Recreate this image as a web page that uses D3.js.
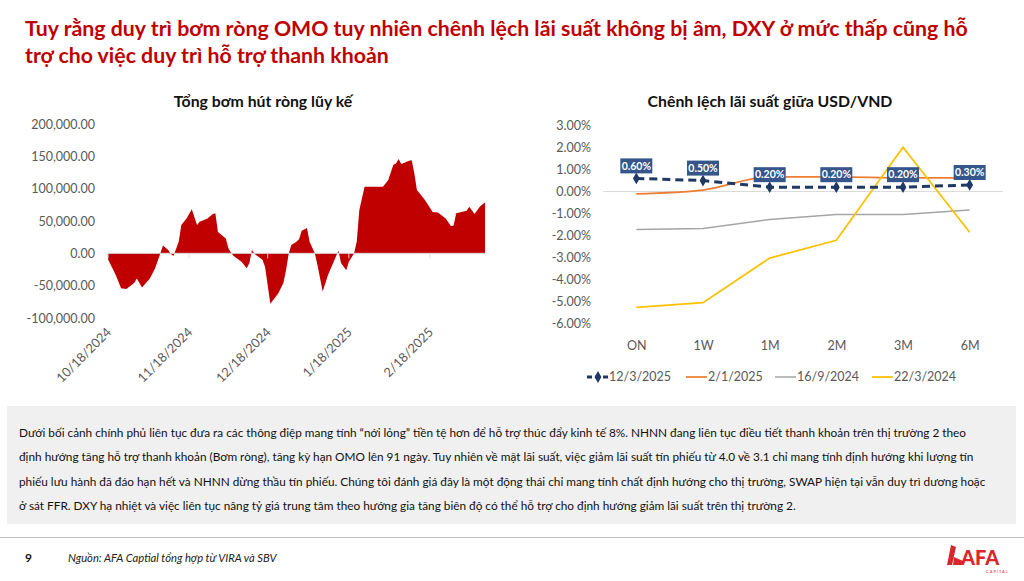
<!DOCTYPE html>
<html lang="vi">
  <head>
    <meta charset="UTF-8" />
    <title>Bơm hút ròng & chênh lệch lãi suất</title>
    <script src="https://d3js.org/d3.v7.min.js"></script>
    <style>
      body {
        margin: 0;
        background: #fff;
        font-family: Lato, 'Open Sans', Arial, sans-serif;
      }
      svg text {
        font-family: Lato, 'Open Sans', Arial, sans-serif;
      }
    </style>
  </head>
  <body>
    <div id="chart"></div>
    <script>
      // ---- data: cumulative net injection (left chart) ----
      const omoDates = [
        '2024-10-18', '2024-10-21', '2024-10-23', '2024-10-25', '2024-10-28', '2024-10-29',
        '2024-10-31', '2024-11-03', '2024-11-05', '2024-11-07', '2024-11-08', '2024-11-10',
        '2024-11-11', '2024-11-12', '2024-11-14', '2024-11-15', '2024-11-17', '2024-11-19',
        '2024-11-21', '2024-11-22', '2024-11-25', '2024-11-27', '2024-11-28', '2024-11-29',
        '2024-12-02', '2024-12-03', '2024-12-04', '2024-12-05', '2024-12-08', '2024-12-10',
        '2024-12-11', '2024-12-12', '2024-12-13', '2024-12-16', '2024-12-17', '2024-12-19',
        '2024-12-22', '2024-12-24', '2024-12-25', '2024-12-26', '2024-12-27', '2024-12-29',
        '2024-12-30', '2024-12-31', '2025-01-02', '2025-01-03', '2025-01-05', '2025-01-06',
        '2025-01-08', '2025-01-10', '2025-01-12', '2025-01-14', '2025-01-15', '2025-01-17',
        '2025-01-18', '2025-01-20', '2025-01-21', '2025-01-22', '2025-01-24', '2025-01-31',
        '2025-02-02', '2025-02-04', '2025-02-05', '2025-02-06', '2025-02-07', '2025-02-10',
        '2025-02-11', '2025-02-12', '2025-02-13', '2025-02-16', '2025-02-19', '2025-02-21',
        '2025-02-24', '2025-02-26', '2025-02-27', '2025-02-28', '2025-03-04', '2025-03-05',
        '2025-03-07', '2025-03-09', '2025-03-11'
      ];
      const omoValues = [
        -9000, -34000, -54000, -55000, -46000, -39000,
        -53000, -39000, -23000, 0, 12000, 5000,
        -1000, -4000, 18000, 44000, 54000, 68000,
        44000, 49000, 54000, 61000, 62000, 33000,
        23000, 8000, 1000, -4000, -13000, -23000,
        -15000, 5000, -1000, -10000, -21000, -78000,
        -62000, -46000, -26000, -1000, 13000, 18000,
        22000, 35000, 39000, 18000, 0, -18000,
        -59000, -34000, -15000, 4000, -15000, -26000,
        -13000, 0, 18000, 67000, 103000, 103000,
        113000, 137000, 139000, 146000, 138000, 143000,
        144000, 124000, 98000, 83000, 64000, 63000,
        54000, 42000, 43000, 62000, 66000, 72000,
        61000, 72000, 79000
      ];
      const omoTickDates = ['2024-10-18', '2024-11-18', '2024-12-18', '2025-01-18', '2025-02-18'];
      const omoTickLabels = ['10/18/2024', '11/18/2024', '12/18/2024', '1/18/2025', '2/18/2025'];
      const omoYTicks = [-100000, -50000, 0, 50000, 100000, 150000, 200000];

      // ---- data: USD/VND rate spread (right chart) ----
      const tenors = ['ON', '1W', '1M', '2M', '3M', '6M'];
      const spread_12_3_2025 = [0.6, 0.5, 0.2, 0.2, 0.2, 0.3];
      const spread_2_1_2025 = [-0.1, 0.07, 0.67, 0.67, 0.62, 0.62];
      const spread_16_9_2024 = [-1.73, -1.68, -1.27, -1.05, -1.05, -0.84];
      const spread_22_3_2024 = [-5.28, -5.06, -3.03, -2.22, 2.02, -1.85];
      const seriesNames = ['12/3/2025', '2/1/2025', '16/9/2024', '22/3/2024'];
      const spreadYTicks = [-6, -5, -4, -3, -2, -1, 0, 1, 2, 3];

      const bodyLines = [
        'Dưới bối cảnh chính phủ liên tục đưa ra các thông điệp mang tính “nới lỏng” tiền tệ hơn để hỗ trợ thúc đẩy kinh tế 8%. NHNN đang liên tục điều tiết thanh khoản trên thị trường 2 theo',
        'định hướng tăng hỗ trợ thanh khoản (Bơm ròng), tăng kỳ hạn OMO lên 91 ngày. Tuy nhiên về mặt lãi suất, việc giảm lãi suất tín phiếu từ 4.0 về 3.1 chỉ mang tính định hướng khi lượng tín',
        'phiếu lưu hành đã đáo hạn hết và NHNN dừng thầu tín phiếu. Chúng tôi đánh giá đây là một động thái chỉ mang tính chất định hướng cho thị trường, SWAP hiện tại vẫn duy trì dương hoặc',
        'ở sát FFR. DXY hạ nhiệt và việc liên tục nâng tỷ giá trung tâm theo hướng gia tăng biên độ có thể hỗ trợ cho định hướng giảm lãi suất trên thị trường 2.'
      ];

      const width = 1024;
      const height = 581;
      const parse = d3.timeParse('%Y-%m-%d');
      const locale = d3.formatLocale({
        decimal: '.',
        thousands: ',',
        grouping: [3],
        currency: ['$', ''],
        minus: '-'
      });

      const svg = d3
        .select('#chart')
        .append('svg')
        .attr('width', width)
        .attr('height', height);

      // Slide title
      const title = svg
        .append('text')
        .attr('x', 25)
        .attr('fill', '#C00000')
        .attr('font-size', 21.3)
        .attr('font-weight', 700);
      title
        .append('tspan')
        .attr('x', 25)
        .attr('y', 36)
        .text('Tuy rằng duy trì bơm ròng OMO tuy nhiên chênh lệch lãi suất không bị âm, DXY ở mức thấp cũng hỗ');
      title
        .append('tspan')
        .attr('x', 25)
        .attr('y', 63)
        .text('trợ cho việc duy trì hỗ trợ thanh khoản');

      // ---------- Left chart: area ----------
      const left = svg.append('g');
      left
        .append('text')
        .attr('x', 263)
        .attr('y', 107)
        .attr('text-anchor', 'middle')
        .attr('font-size', 15.8)
        .attr('font-weight', 700)
        .attr('fill', '#111')
        .text('Tổng bơm hút ròng lũy kế');

      const omoData = omoDates.map((d, i) => ({ date: parse(d), value: omoValues[i] }));
      const x1 = d3
        .scaleTime()
        .domain([parse('2024-10-18'), parse('2025-03-11')])
        .range([108, 485]);
      const y1 = d3.scaleLinear().domain([-100000, 200000]).range([318, 124]);

      left
        .append('path')
        .datum(omoData)
        .attr('fill', '#C00000')
        .attr(
          'd',
          d3
            .area()
            .x((d) => x1(d.date))
            .y0(y1(0))
            .y1((d) => y1(d.value))
        );

      // zero axis line with small tick marks
      left
        .append('line')
        .attr('x1', x1.range()[0])
        .attr('x2', x1.range()[1])
        .attr('y1', y1(0))
        .attr('y2', y1(0))
        .attr('stroke', '#D9D9D9')
        .attr('stroke-width', 1);
      left
        .selectAll('.xtick')
        .data(omoTickDates)
        .join('line')
        .attr('x1', (d) => x1(parse(d)))
        .attr('x2', (d) => x1(parse(d)))
        .attr('y1', y1(0))
        .attr('y2', y1(0) + 5)
        .attr('stroke', '#D9D9D9');

      const yAxis1 = left
        .append('g')
        .attr('transform', 'translate(98,0)')
        .call(
          d3
            .axisLeft(y1)
            .tickValues(omoYTicks)
            .tickFormat(locale.format(',.2f'))
            .tickSize(0)
        );
      yAxis1.select('.domain').remove();
      yAxis1.selectAll('text').attr('font-size', 12.5).attr('fill', '#595959').attr('font-family', 'Lato');

      left
        .selectAll('.xlabel')
        .data(omoTickDates)
        .join('text')
        .attr('transform', (d) => `translate(${x1(parse(d)) + 4},${333}) rotate(-45)`)
        .attr('text-anchor', 'end')
        .attr('font-size', 12.8)
        .attr('fill', '#595959')
        .text((d, i) => omoTickLabels[i]);

      // ---------- Right chart: lines ----------
      const right = svg.append('g');
      right
        .append('text')
        .attr('x', 770)
        .attr('y', 107)
        .attr('text-anchor', 'middle')
        .attr('font-size', 15.8)
        .attr('font-weight', 700)
        .attr('fill', '#111')
        .text('Chênh lệch lãi suất giữa USD/VND');

      const x2 = d3.scalePoint().domain(tenors).range([603, 1003]).padding(0.5);
      const y2 = d3.scaleLinear().domain([-6, 3]).range([323.3, 125.7]);

      right
        .append('line')
        .attr('x1', 603)
        .attr('x2', 1003)
        .attr('y1', y2(0))
        .attr('y2', y2(0))
        .attr('stroke', '#D9D9D9');

      const yAxis2 = right
        .append('g')
        .attr('transform', 'translate(594,0)')
        .call(
          d3
            .axisLeft(y2)
            .tickValues(spreadYTicks)
            .tickFormat((d) => locale.format('.2%')(d / 100))
            .tickSize(0)
        );
      yAxis2.select('.domain').remove();
      yAxis2.selectAll('text').attr('font-size', 12.5).attr('fill', '#595959').attr('font-family', 'Lato');

      const xAxis2 = right
        .append('g')
        .attr('transform', 'translate(0,338)')
        .call(d3.axisBottom(x2).tickSize(0));
      xAxis2.select('.domain').remove();
      xAxis2.selectAll('text').attr('font-size', 12.5).attr('fill', '#595959').attr('font-family', 'Lato');

      const line2 = (curve) =>
        d3
          .line()
          .x((d, i) => x2(tenors[i]))
          .y((d) => y2(d))
          .curve(curve);

      right
        .append('path')
        .datum(spread_16_9_2024)
        .attr('fill', 'none')
        .attr('stroke', '#A5A5A5')
        .attr('stroke-width', 1.5)
        .attr('d', line2(d3.curveLinear));

      right
        .append('path')
        .datum(spread_2_1_2025)
        .attr('fill', 'none')
        .attr('stroke', '#ED7D31')
        .attr('stroke-width', 1.75)
        .attr('d', line2(d3.curveMonotoneX));

      right
        .append('path')
        .datum(spread_22_3_2024)
        .attr('fill', 'none')
        .attr('stroke', '#FFC000')
        .attr('stroke-width', 1.75)
        .attr('d', line2(d3.curveLinear));

      right
        .append('path')
        .datum(spread_12_3_2025)
        .attr('fill', 'none')
        .attr('stroke', '#1F3864')
        .attr('stroke-width', 3)
        .attr('stroke-dasharray', '8,5')
        .attr('d', line2(d3.curveLinear));

      right
        .selectAll('.mk')
        .data(spread_12_3_2025)
        .join('path')
        .attr('d', d3.symbol(d3.symbolDiamond, 40))
        .attr('transform', (d, i) => `translate(${x2(tenors[i])},${y2(d)})`)
        .attr('fill', '#1F3864');

      const labels = right
        .selectAll('.lbl')
        .data(spread_12_3_2025)
        .join('g')
        .attr('transform', (d, i) => `translate(${x2(tenors[i])},${y2(d) - 12.5})`);
      labels
        .append('rect')
        .attr('x', -16)
        .attr('y', -7.5)
        .attr('width', 32)
        .attr('height', 15)
        .attr('fill', '#34568A');
      labels
        .append('text')
        .attr('text-anchor', 'middle')
        .attr('dy', '0.35em')
        .attr('font-size', 10.5)
        .attr('font-weight', 700)
        .attr('fill', '#fff')
        .text((d) => locale.format('.2%')(d / 100));

      // legend
      const legendItems = [
        { name: seriesNames[0], color: '#1F3864', x: 587, dash: '5,3', w: 3, marker: true },
        { name: seriesNames[1], color: '#ED7D31', x: 686, dash: null, w: 1.75 },
        { name: seriesNames[2], color: '#A5A5A5', x: 775, dash: null, w: 1.5 },
        { name: seriesNames[3], color: '#FFC000', x: 872, dash: null, w: 1.75 }
      ];
      const legend = right
        .selectAll('.lg')
        .data(legendItems)
        .join('g')
        .attr('transform', (d) => `translate(${d.x},377)`);
      legend
        .append('line')
        .attr('x1', 0)
        .attr('x2', 21)
        .attr('stroke', (d) => d.color)
        .attr('stroke-width', (d) => d.w)
        .attr('stroke-dasharray', (d) => d.dash);
      legend
        .filter((d) => d.marker)
        .append('path')
        .attr('d', d3.symbol(d3.symbolDiamond, 40))
        .attr('transform', 'translate(11,0)')
        .attr('fill', (d) => d.color);
      legend
        .append('text')
        .attr('x', 22)
        .attr('dy', '0.35em')
        .attr('font-size', 12.5)
        .attr('fill', '#595959')
        .text((d) => d.name);

      // ---------- Commentary box ----------
      svg
        .append('rect')
        .attr('x', 7)
        .attr('y', 406)
        .attr('width', 1009)
        .attr('height', 118)
        .attr('fill', '#F0F0F0');
      svg
        .selectAll('.body')
        .data(bodyLines)
        .join('text')
        .attr('x', 19)
        .attr('y', (d, i) => 437 + i * 24.3)
        .attr('font-size', 11.8)
        .attr('fill', '#111')
        .text((d) => d);

      // ---------- Footer ----------
      svg
        .append('line')
        .attr('x1', 0)
        .attr('x2', width)
        .attr('y1', 537.5)
        .attr('y2', 537.5)
        .attr('stroke', '#BFBFBF');
      svg
        .append('text')
        .attr('x', 25)
        .attr('y', 562)
        .attr('font-size', 12)
        .attr('font-weight', 700)
        .attr('fill', '#111')
        .text('9');
      svg
        .append('text')
        .attr('x', 68)
        .attr('y', 562)
        .attr('font-size', 11.2)
        .attr('font-style', 'italic')
        .attr('fill', '#222')
        .text('Nguồn: AFA Captial tổng hợp từ VIRA và SBV');

      // logo
      const logo = svg.append('g').attr('transform', 'translate(945,545)');
      logo
        .append('path')
        .attr('d', 'M6,0 L11,2 L7,20 L2,20 Z M9,12 L18,16 L18,20 L8,20 Z')
        .attr('fill', '#D9262C');
      logo
        .append('text')
        .attr('x', 16)
        .attr('y', 20)
        .attr('font-size', 20)
        .attr('font-weight', 900)
        .attr('fill', '#D9262C')
        .text('AFA');
      logo
        .append('text')
        .attr('x', 41)
        .attr('y', 28)
        .attr('font-size', 4)
        .attr('letter-spacing', 1)
        .attr('fill', '#D9262C')
        .text('CAPITAL');
    </script>
  </body>
</html>
